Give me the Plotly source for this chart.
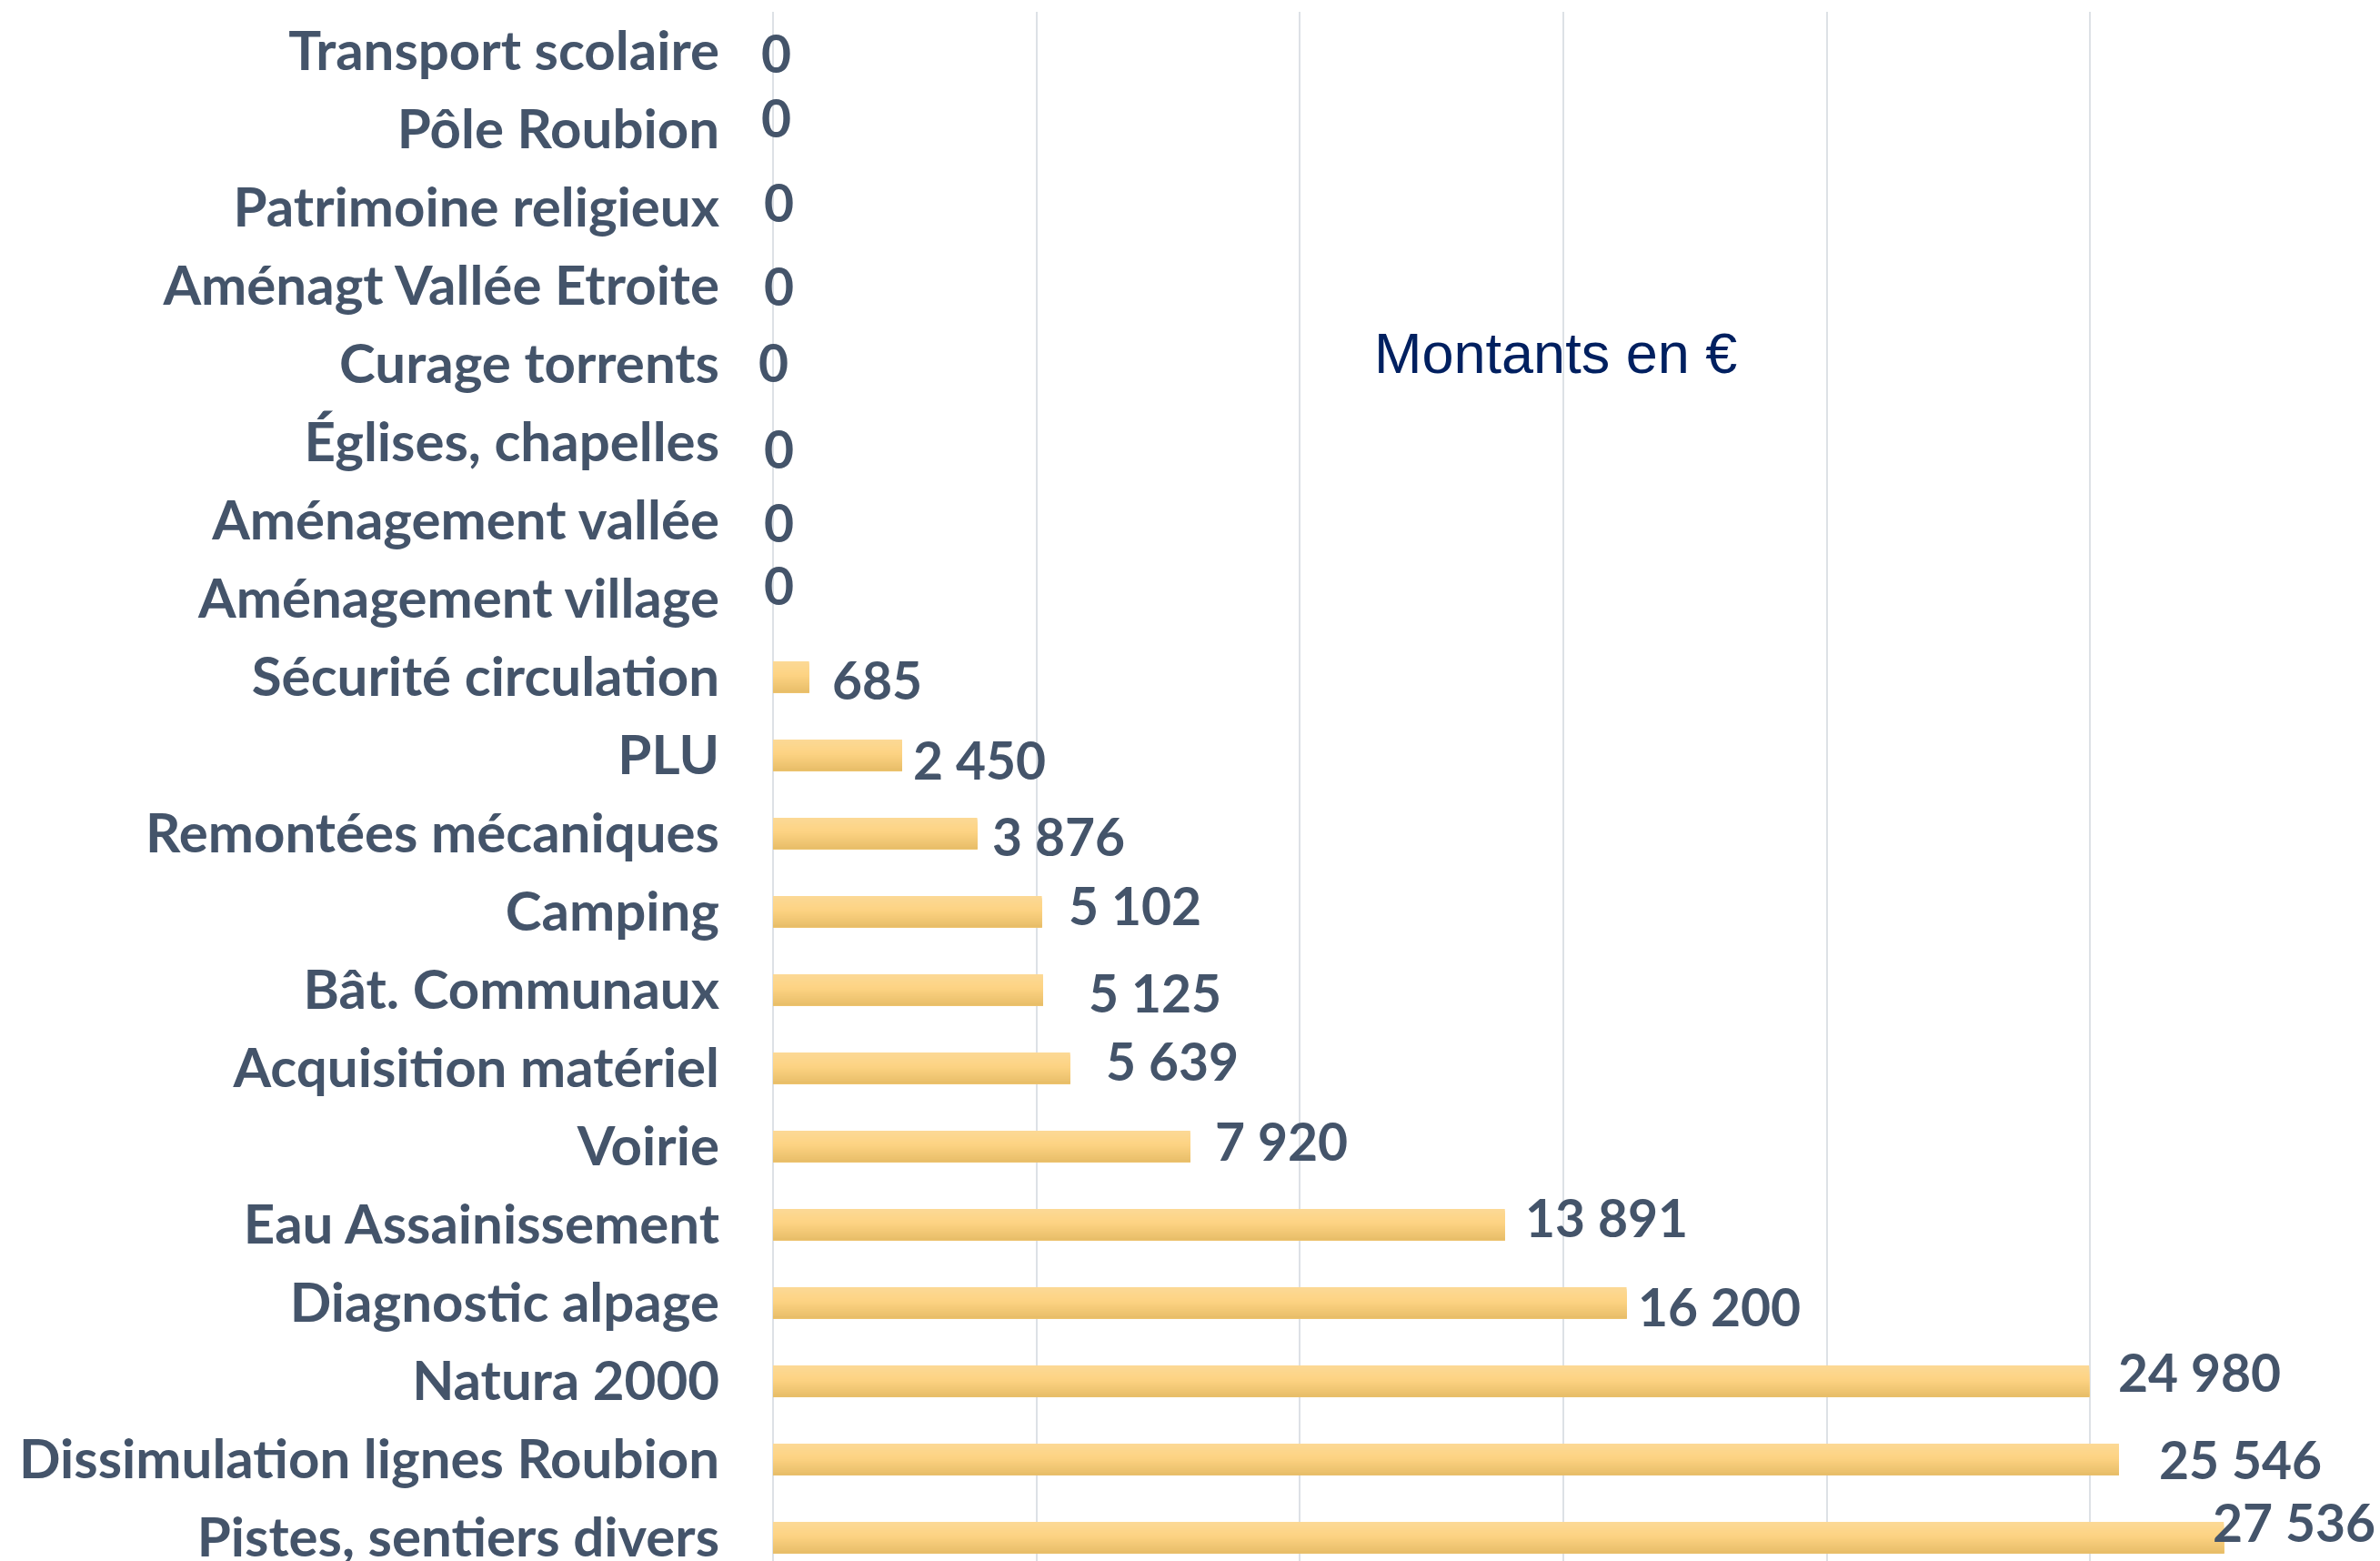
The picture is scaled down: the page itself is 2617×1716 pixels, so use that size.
import plotly.graph_objects as go

categories = [
    "Transport scolaire", "Pôle Roubion", "Patrimoine religieux",
    "Aménagt Vallée Etroite", "Curage torrents", "Églises, chapelles",
    "Aménagement vallée", "Aménagement village", "Sécurité circulation",
    "PLU", "Remontées mécaniques", "Camping", "Bât. Communaux",
    "Acquisition matériel", "Voirie", "Eau Assainissement",
    "Diagnostic alpage", "Natura 2000", "Dissimulation lignes Roubion",
    "Pistes, sentiers divers",
]
values = [0, 0, 0, 0, 0, 0, 0, 0, 685, 2450, 3876, 5102, 5125, 5639,
          7920, 13891, 16200, 24980, 25546, 27536]

# label nudges (pixels) copying the hand-placed labels of the original
label_dx = [-15, -15, -12, -12, -18, -12, -12, -12, 23, 10, 14, 27, 48, 37,
            25, 20, 10, 30, 42, -14]
label_dy = [-2, 13, 6, 0, 2, -7, -2, 15, -3, -5, -3, 7, -3, 8, 6, 8, -4, 10,
            0, 17]

TEXT = "#44546A"
FONT = "Lato"

# vertical gradient of the bars, top -> bottom
stops = [(0.0, (252, 217, 150)), (0.45, (253, 211, 131)), (1.0, (231, 189, 104))]


def grad(t):
    for (t0, c0), (t1, c1) in zip(stops[:-1], stops[1:]):
        if t0 <= t <= t1:
            f = (t - t0) / (t1 - t0) if t1 > t0 else 0
            return "rgb(%d,%d,%d)" % tuple(round(a + (b - a) * f) for a, b in zip(c0, c1))
    return "rgb(%d,%d,%d)" % stops[-1][1]


BAR_W = 0.4
N = 20
fig = go.Figure()
for i in range(N):
    off = -BAR_W / 2 + i * BAR_W / N
    fig.add_trace(go.Bar(
        x=values, y=categories, orientation="h",
        offset=off, width=BAR_W - i * BAR_W / N,
        marker=dict(color=grad((i + 0.5) / N), line=dict(width=0)),
        showlegend=False, hoverinfo="skip",
    ))

for c, v, dx, dy in zip(categories, values, label_dx, label_dy):
    fig.add_annotation(
        x=v, y=c, xref="x", yref="y", text=f"{v:,}".replace(",", " "),
        xanchor="left", yanchor="middle", showarrow=False,
        xshift=dx, yshift=dy,
        font=dict(family=FONT, size=57, color=TEXT, weight="bold"),
    )

fig.add_annotation(
    x=0.495, y=0.78, xref="paper", yref="paper", text="Montants en €",
    showarrow=False, xanchor="center", yanchor="middle",
    font=dict(family="Liberation Sans", size=63, color="#002060"),
)

fig.update_layout(
    width=2617, height=1716,
    margin=dict(l=850, r=29, t=13, b=0),
    paper_bgcolor="white", plot_bgcolor="white",
    barmode="overlay",
    showlegend=False,
    xaxis=dict(range=[0, 30000], dtick=5000, showticklabels=False,
               showgrid=True, gridcolor="#DDE1E6", gridwidth=2,
               zeroline=True, zerolinecolor="#DDE1E6", zerolinewidth=2,
               showline=False, fixedrange=True),
    yaxis=dict(type="category", categoryorder="array", categoryarray=categories,
               range=[19.3, -0.5], showgrid=False, zeroline=False,
               showline=False, ticks="", ticklabelstandoff=58,
               tickfont=dict(family=FONT, size=60, color=TEXT, weight="bold"),
               automargin=False),
)

fig.write_html(
    "out.html",
    config={"displayModeBar": False},
    post_script="document.body.style.margin='0';document.body.style.overflow='hidden';",
)
